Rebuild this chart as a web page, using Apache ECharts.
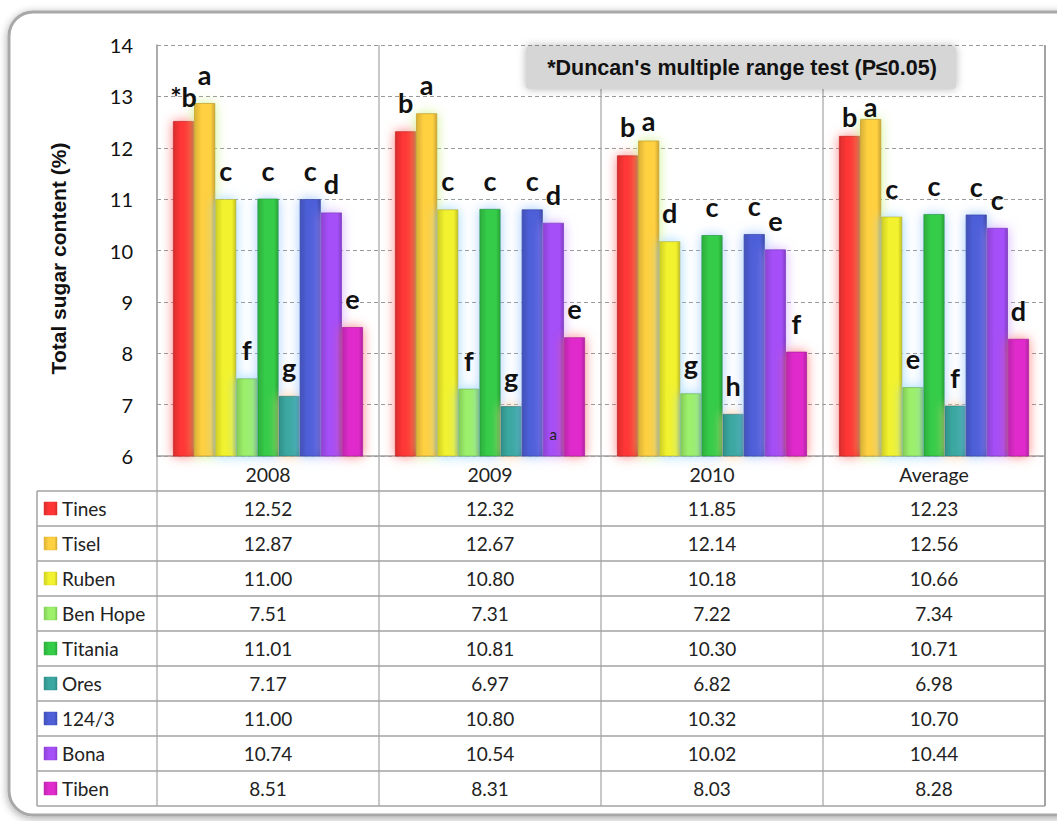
<!DOCTYPE html>
<html>
<head>
<meta charset="utf-8">
<script src="https://cdn.jsdelivr.net/npm/echarts@6/dist/echarts.min.js"></script>
<style>
html,body{margin:0;padding:0;background:#fff;}
#c{width:1057px;height:821px;}
</style>
</head>
<body>
<div id="c"></div>
<script>
// ---- data ----
const categories = ['2008', '2009', '2010', 'Average'];
const seriesNames = ['Tines', 'Tisel', 'Ruben', 'Ben Hope', 'Titania', 'Ores', '124/3', 'Bona', 'Tiben'];
const tines   = [12.52, 12.32, 11.85, 12.23];
const tisel   = [12.87, 12.67, 12.14, 12.56];
const ruben   = [11.00, 10.80, 10.18, 10.66];
const benHope = [7.51, 7.31, 7.22, 7.34];
const titania = [11.01, 10.81, 10.30, 10.71];
const ores    = [7.17, 6.97, 6.82, 6.98];
const s1243   = [11.00, 10.80, 10.32, 10.70];
const bona    = [10.74, 10.54, 10.02, 10.44];
const tiben   = [8.51, 8.31, 8.03, 8.28];
const seriesValues = [tines, tisel, ruben, benHope, titania, ores, s1243, bona, tiben];
// Duncan letters
const lettersTines   = ['*b', 'b', 'b', 'b'];
const lettersTisel   = ['a', 'a', 'a', 'a'];
const lettersRuben   = ['c', 'c', 'd', 'c'];
const lettersBenHope = ['f', 'f', 'g', 'e'];
const lettersTitania = ['c', 'c', 'c', 'c'];
const lettersOres    = ['g', 'g', 'h', 'f'];
const letters1243    = ['c', 'c', 'c', 'c'];
const lettersBona    = ['d', 'd', 'e', 'c'];
const lettersTiben   = ['e', 'e', 'f', 'd'];
const seriesLetters = [lettersTines, lettersTisel, lettersRuben, lettersBenHope, lettersTitania, lettersOres, letters1243, lettersBona, lettersTiben];
const yTicks = [6, 7, 8, 9, 10, 11, 12, 13, 14];
const noteText = "*Duncan's multiple range test (P\u22640.05)";
const yName = 'Total sugar content (%)';

// ---- styles ----
const colors = ['#ff3535', '#ffd040', '#f2f22e', '#9cf06a', '#35cc48', '#3aa8a0', '#4e5fd8', '#a54ff8', '#e02ccc'];
const glow   = ['rgba(255,90,90,0.75)', 'rgba(200,240,120,0.85)', 'rgba(140,210,255,0.85)', 'rgba(140,210,255,0.85)',
                'rgba(140,190,255,0.75)', 'rgba(255,200,140,0.85)', 'rgba(140,190,255,0.85)', 'rgba(200,150,255,0.75)', 'rgba(255,90,90,0.75)'];
// label distance tweaks (letters nudged down under the note box, as in the original)
const labelDistanceDefault = 15;
const labelDistanceTweaks = { 'Tines|2008': 11, 'Tisel|2010': 7, 'Tines|Average': 6, 'Tisel|Average': -1 };

function shade(hex, f) {
  const n = parseInt(hex.slice(1), 16);
  let r = (n >> 16) & 255, g = (n >> 8) & 255, b = n & 255;
  r = Math.round(r * f); g = Math.round(g * f); b = Math.round(b * f);
  return 'rgb(' + Math.min(255, r) + ',' + Math.min(255, g) + ',' + Math.min(255, b) + ')';
}
function barGrad(c) {
  return new echarts.graphic.LinearGradient(0, 0, 1, 0, [
    { offset: 0, color: shade(c, 0.85) },
    { offset: 0.35, color: c },
    { offset: 0.8, color: c },
    { offset: 1, color: shade(c, 0.8) }
  ]);
}

const chart = echarts.init(document.getElementById('c'), null, { renderer: 'svg' });

const series = seriesNames.map((name, i) => ({
  name: name,
  type: 'bar',
  data: seriesValues[i].map((v, j) => {
    const key = name + '|' + categories[j];
    return key in labelDistanceTweaks ? { value: v, label: { distance: labelDistanceTweaks[key] } } : v;
  }),
  barGap: '0%',
  barCategoryGap: '14.4%',
  z: 3,
  itemStyle: {
    color: barGrad(colors[i]),
    borderColor: shade(colors[i], 0.78),
    borderWidth: 0.8,
    shadowBlur: 12,
    shadowColor: glow[i]
  },
  label: {
    show: true,
    position: 'top',
    distance: labelDistanceDefault,
    formatter: p => seriesLetters[i][p.dataIndex],
    fontFamily: 'Lato',
    fontWeight: 'bold',
    fontSize: 27,
    color: '#111'
  }
}));

const option = {
  animation: false,
  backgroundColor: '#fff',
  grid: { left: 157, right: 12, top: 45, bottom: 365, containLabel: false },
  xAxis: {
    type: 'category',
    data: categories,
    axisLine: { show: true, lineStyle: { color: '#a0a0a0', width: 1.5 } },
    axisTick: { show: false },
    splitLine: { show: false },
    axisLabel: { fontFamily: 'Lato', fontSize: 19.5, color: '#222', margin: 8 }
  },
  yAxis: {
    type: 'value',
    min: 6, max: 14, interval: 1,
    name: yName,
    nameLocation: 'middle',
    nameGap: 88,
    nameTextStyle: { fontFamily: 'Liberation Sans', fontWeight: 'bold', fontSize: 21, color: '#111', padding: [0, 16, 0, 0] },
    axisLine: { show: true, lineStyle: { color: '#a0a0a0', width: 1.5 } },
    axisTick: { show: false },
    axisLabel: { fontFamily: 'Lato', fontSize: 20, color: '#111', margin: 24 },
    splitLine: { show: true, lineStyle: { color: '#9a9a9a', type: [4, 3], width: 1 } }
  },
  series: series
};
chart.setOption(option);

// ---- table and decorations built from the axes ----
const yBottom = chart.convertToPixel({ yAxisIndex: 0 }, yTicks[0]);
const yTop = chart.convertToPixel({ yAxisIndex: 0 }, yTicks[yTicks.length - 1]);
const centers = categories.map(c => chart.convertToPixel({ xAxisIndex: 0 }, c));
const band = centers[1] - centers[0];
const xLeftPlot = centers[0] - band / 2;
const xRightPlot = centers[centers.length - 1] + band / 2;
const tableLeft = 37;
const rowH = 35;
const tableBottom = yBottom + rowH * (seriesNames.length + 1);
const lineColor = '#a3a3a3';

const g = [];
// outer frame
g.push({
  type: 'rect', z: -10, silent: true,
  shape: { x: 9, y: 12, width: 1075, height: 803, r: 24 },
  style: { fill: '#fff', stroke: '#a8a8a8', lineWidth: 3, shadowBlur: 8, shadowColor: 'rgba(0,0,0,0.35)', shadowOffsetY: 2 }
});
// horizontal table lines
for (let k = 1; k <= seriesNames.length + 1; k++) {
  const y = yBottom + rowH * k;
  g.push({ type: 'line', z: 10, shape: { x1: tableLeft, y1: y, x2: xRightPlot, y2: y }, style: { stroke: lineColor, lineWidth: 1.5 } });
}
// vertical lines
g.push({ type: 'line', z: 10, shape: { x1: tableLeft, y1: yBottom + rowH, x2: tableLeft, y2: tableBottom }, style: { stroke: lineColor, lineWidth: 1.5 } });
for (let j = 0; j <= categories.length; j++) {
  const x = xLeftPlot + band * j;
  g.push({ type: 'line', z: 1, shape: { x1: x, y1: yTop, x2: x, y2: tableBottom }, style: { stroke: lineColor, lineWidth: j === categories.length ? 2 : 1.2 } });
}
// rows
seriesNames.forEach((name, i) => {
  const yc = yBottom + rowH * (i + 1) + rowH / 2;
  g.push({
    type: 'rect', z: 10,
    shape: { x: 44, y: yc - 6.5, width: 13, height: 13 },
    style: { fill: barGrad(colors[i]), stroke: shade(colors[i], 0.9), lineWidth: 0.5 }
  });
  g.push({
    type: 'text', z: 10,
    style: { x: 62, y: yc, text: name, fontFamily: 'Lato', fontSize: 19, fill: '#222', align: 'left', verticalAlign: 'middle' }
  });
  seriesValues[i].forEach((v, j) => {
    g.push({
      type: 'text', z: 10,
      style: { x: centers[j], y: yc, text: v.toFixed(2), fontFamily: 'Lato', fontSize: 19, fill: '#222', align: 'center', verticalAlign: 'middle' }
    });
  });
});
// note box
g.push({
  type: 'rect', z: 12,
  shape: { x: 526, y: 46, width: 430, height: 43, r: 3 },
  style: { fill: '#d6d6d6', shadowBlur: 8, shadowColor: 'rgba(0,0,0,0.3)' }
});
g.push({
  type: 'text', z: 13,
  style: { x: 742, y: 67.5, text: noteText, fontFamily: 'Liberation Sans', fontWeight: 'bold', fontSize: 21.5, fill: '#111', align: 'center', verticalAlign: 'middle' }
});
// stray small "a" on the 2009 Bona bar
const bonaIdx = seriesNames.indexOf('Bona');
const barW = band * (1 - 0.144) / seriesNames.length;
g.push({
  type: 'text', z: 13,
  style: {
    x: centers[1] + (bonaIdx - (seriesNames.length - 1) / 2) * barW,
    y: chart.convertToPixel({ yAxisIndex: 0 }, 6.42),
    text: 'a', fontFamily: 'Lato', fontSize: 15, fill: '#222', align: 'center', verticalAlign: 'middle'
  }
});

chart.setOption({ graphic: { elements: g } });
</script>
</body>
</html>
